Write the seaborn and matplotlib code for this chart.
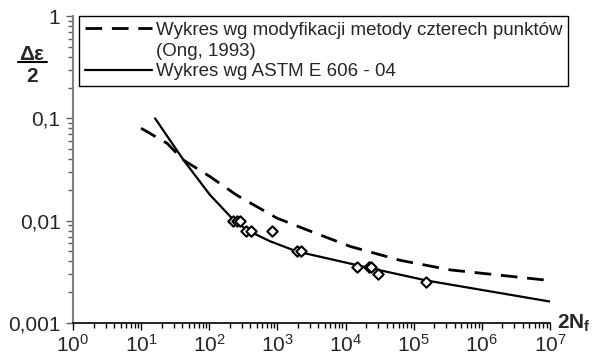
import numpy as np
import pandas as pd
import matplotlib
matplotlib.use("Agg")
import matplotlib.pyplot as plt
import seaborn as sns
from matplotlib.lines import Line2D
from matplotlib.ticker import FixedLocator, FixedFormatter, LogLocator, NullFormatter

# ---- data ----
ong_x = [10, 24, 42, 102, 251, 980, 2500, 11700, 63000, 347000, 1e7]
ong_y = [0.08, 0.057, 0.039, 0.027, 0.0178, 0.0106, 0.0083, 0.0056, 0.0041, 0.0033, 0.0026]

astm_x = [16, 42, 102, 214, 355, 776, 1930, 20400, 155000, 1e7]
astm_y = [0.1, 0.039, 0.0179, 0.0106, 0.0081, 0.0063, 0.005, 0.0035, 0.0026, 0.00162]

pts_x = [221, 257, 283, 347, 407, 834, 1930, 2200, 14800, 21900, 24000, 29700, 149000]
pts_y = [0.01, 0.01, 0.01, 0.008, 0.008, 0.008, 0.005, 0.005, 0.0035, 0.0035, 0.0035, 0.003, 0.0025]

ytick_vals = [0.001, 0.01, 0.1, 1]
ytick_labels = ["0,001", "0,01", "0,1", "1"]
xtick_vals = [1, 10, 100, 1e3, 1e4, 1e5, 1e6, 1e7]
xtick_labels = [r"$10^{%d}$" % i for i in range(8)]

label_ong_1 = "Wykres wg modyfikacji metody czterech punktów"
label_ong_2 = "(Ong, 1993)"
label_astm = "Wykres wg ASTM E 606 - 04"

sns.set_style("ticks")
plt.rcParams["font.family"] = ["Liberation Sans", "DejaVu Sans"]
plt.rcParams["mathtext.fontset"] = "custom"
plt.rcParams["mathtext.rm"] = "Liberation Sans"
plt.rcParams["mathtext.it"] = "Liberation Sans:italic"
plt.rcParams["mathtext.bf"] = "Liberation Sans:bold"

fig = plt.figure(figsize=(6.07, 3.61), dpi=100)
ax = fig.add_axes([73/607, 1-323/361, (550-73)/607, (323-16)/361])

df_ong = pd.DataFrame({"x": ong_x, "y": ong_y})
df_astm = pd.DataFrame({"x": astm_x, "y": astm_y})
df_pts = pd.DataFrame({"x": pts_x, "y": pts_y})

sns.lineplot(data=df_ong, x="x", y="y", ax=ax, color="black", lw=2.0,
             estimator=None, sort=False)
ax.lines[-1].set_dashes([6, 3.5])
sns.lineplot(data=df_astm, x="x", y="y", ax=ax, color="black", lw=1.6,
             estimator=None, sort=False)
sns.scatterplot(data=df_pts, x="x", y="y", ax=ax, marker="D", s=28,
                facecolor="white", edgecolor="black", linewidth=1.5, zorder=5)

ax.set_xscale("log")
ax.set_yscale("log")
ax.set_xlim(1, 1e7)
ax.set_ylim(0.001, 1)

ax.yaxis.set_major_locator(FixedLocator(ytick_vals))
ax.yaxis.set_major_formatter(FixedFormatter(ytick_labels))
ax.yaxis.set_minor_locator(LogLocator(base=10, subs=np.arange(2, 10), numticks=20))
ax.yaxis.set_minor_formatter(NullFormatter())
ax.xaxis.set_major_locator(FixedLocator(xtick_vals))
ax.xaxis.set_major_formatter(FixedFormatter(xtick_labels))
ax.xaxis.set_minor_locator(LogLocator(base=10, subs=np.arange(2, 10), numticks=20))
ax.xaxis.set_minor_formatter(NullFormatter())

ax.set_xlabel("")
ax.set_ylabel("")
for s in ["top", "right"]:
    ax.spines[s].set_visible(False)
ax.spines["left"].set_color("#808080")
ax.spines["left"].set_linewidth(1.5)
ax.spines["bottom"].set_color("black")
ax.spines["bottom"].set_linewidth(1.2)

ax.tick_params(axis="y", which="major", length=5, width=1, color="#606060",
               labelsize=15, pad=4, direction="out")
ax.tick_params(axis="y", which="minor", length=3.5, width=1, color="#606060",
               direction="out")
ax.tick_params(axis="x", which="major", length=5, width=1, color="black",
               labelsize=15, pad=3, direction="out")
ax.tick_params(axis="x", which="minor", length=3.5, width=1, color="black",
               direction="out")

handles = [
    Line2D([0], [0], color="black", lw=2.0, dashes=[6, 3.5]),
    Line2D([0], [0], color="none"),
    Line2D([0], [0], color="black", lw=1.6),
]
labels = [label_ong_1, label_ong_2, label_astm]
leg = ax.legend(handles, labels, loc="upper left",
                bbox_to_anchor=(79/607, 1-16/361), bbox_transform=fig.transFigure,
                fontsize=13.5, frameon=True, fancybox=False, framealpha=1,
                edgecolor="black", handlelength=3.6, handletextpad=0.2,
                labelspacing=0.2, borderpad=0.3, borderaxespad=0)
leg.get_frame().set_linewidth(1.0)

ax.text(1.015, 0.0, r"$\mathbf{2N_f}$", transform=ax.transAxes, fontsize=15,
        ha="left", va="center")

fig.text(32/607, 1-54/361, "Δε", fontsize=15, fontweight="bold",
         ha="center", va="center")
fig.add_artist(Line2D([18/607, 47/607], [1-62/361, 1-62/361], color="black",
                      lw=1.5, transform=fig.transFigure))
fig.text(32/607, 1-76/361, "2", fontsize=15, fontweight="bold",
         ha="center", va="center")

fig.savefig("out.png", dpi=100)
